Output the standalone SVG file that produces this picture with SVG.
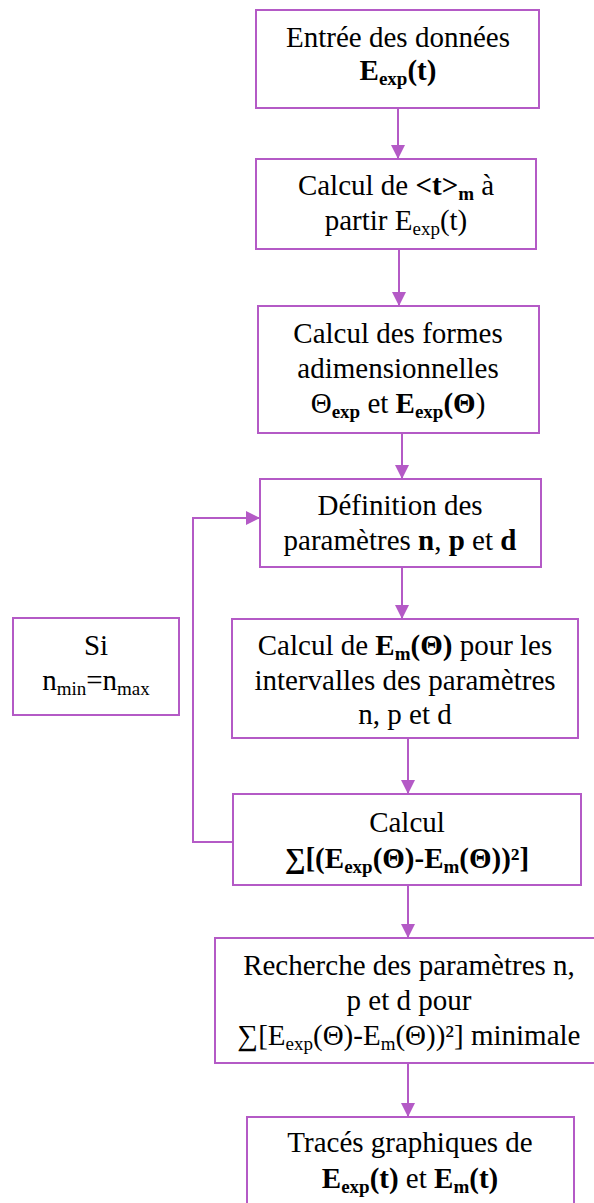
<svg xmlns="http://www.w3.org/2000/svg" width="594" height="1203" viewBox="0 0 594 1203">
<style>
.box{fill:#fff;stroke:#B45AC6;stroke-width:2}
.ln{fill:none;stroke:#B45AC6;stroke-width:2}
text{font-size:29px;fill:#000;text-anchor:middle}
.b{font-weight:bold}
.s{font-size:19px}
</style>
<defs>
<marker id="ah" markerUnits="userSpaceOnUse" markerWidth="16" markerHeight="16" viewBox="0 0 16 16" refX="14" refY="8" orient="auto">
<path d="M0,1 L14,8 L0,15 Z" fill="#B45AC6"/>
</marker>
</defs>
<rect width="594" height="1203" fill="#fff"/>
<g id="connectors">
<line class="ln" x1="398" y1="108" x2="398" y2="159" marker-end="url(#ah)"/>
<line class="ln" x1="399" y1="249" x2="399" y2="306" marker-end="url(#ah)"/>
<line class="ln" x1="402" y1="433" x2="402" y2="479" marker-end="url(#ah)"/>
<line class="ln" x1="402" y1="567" x2="402" y2="619" marker-end="url(#ah)"/>
<line class="ln" x1="408" y1="738" x2="408" y2="794" marker-end="url(#ah)"/>
<line class="ln" x1="408" y1="885" x2="408" y2="938" marker-end="url(#ah)"/>
<line class="ln" x1="408" y1="1063" x2="408" y2="1117" marker-end="url(#ah)"/>
<polyline class="ln" points="233,842 193,842 193,518 260,518" marker-end="url(#ah)"/>
</g>
<g font-family="Liberation Serif, DejaVu Serif, serif">
<g id="n1">
<rect class="box" x="256" y="10" width="283" height="98"/>
<text x="398" y="47">Entrée des données</text>
<text x="398" y="80" class="b">E<tspan class="s" dy="5">exp</tspan><tspan dy="-5">(t)</tspan></text>
</g>
<g id="n2">
<rect class="box" x="256" y="159" width="280" height="90"/>
<text x="396" y="195">Calcul de <tspan class="b">&lt;t&gt;</tspan><tspan class="b s" dy="5">m</tspan><tspan dy="-5"> à</tspan></text>
<text x="396" y="230">partir E<tspan class="s" dy="5">exp</tspan><tspan dy="-5">(t)</tspan></text>
</g>
<g id="n3">
<rect class="box" x="258" y="306" width="281" height="127"/>
<text x="398" y="343">Calcul des formes</text>
<text x="398" y="378">adimensionnelles</text>
<text x="398" y="413">Θ<tspan class="b s" dy="5">exp</tspan><tspan dy="-5"> et </tspan><tspan class="b">E</tspan><tspan class="b s" dy="5">exp</tspan><tspan class="b" dy="-5">(Θ</tspan>)</text>
</g>
<g id="n4">
<rect class="box" x="260" y="479" width="281" height="88"/>
<text x="400" y="515">Définition des</text>
<text x="400" y="550">paramètres <tspan class="b">n</tspan>, <tspan class="b">p</tspan> et <tspan class="b">d</tspan></text>
</g>
<g id="n5">
<rect class="box" x="13" y="618" width="166" height="97"/>
<text x="96" y="655">Si</text>
<text x="96" y="690">n<tspan class="s" dy="5">min</tspan><tspan dy="-5">=n</tspan><tspan class="s" dy="5">max</tspan></text>
</g>
<g id="n6">
<rect class="box" x="232" y="619" width="346" height="119"/>
<text x="405" y="655">Calcul de <tspan class="b">E</tspan><tspan class="b s" dy="5">m</tspan><tspan class="b" dy="-5">(Θ)</tspan> pour les</text>
<text x="405" y="690">intervalles des paramètres</text>
<text x="405" y="724">n, p et d</text>
</g>
<g id="n7">
<rect class="box" x="233" y="794" width="348" height="91"/>
<text x="407" y="832">Calcul</text>
<text x="407" y="868" class="b">∑[(E<tspan class="s" dy="5">exp</tspan><tspan dy="-5">(Θ)-E</tspan><tspan class="s" dy="5">m</tspan><tspan dy="-5">(Θ))²]</tspan></text>
</g>
<g id="n8">
<rect class="box" x="215" y="938" width="390" height="125"/>
<text x="409" y="975">Recherche des paramètres n,</text>
<text x="409" y="1010">p et d pour</text>
<text x="409" y="1045">∑[E<tspan class="s" dy="5">exp</tspan><tspan dy="-5">(Θ)-E</tspan><tspan class="s" dy="5">m</tspan><tspan dy="-5">(Θ))²] minimale</tspan></text>
</g>
<g id="n9">
<rect class="box" x="247" y="1117" width="327" height="100"/>
<text x="410" y="1152">Tracés graphiques de</text>
<text x="410" y="1188"><tspan class="b">E</tspan><tspan class="b s" dy="5">exp</tspan><tspan class="b" dy="-5">(t)</tspan> et <tspan class="b">E</tspan><tspan class="b s" dy="5">m</tspan><tspan class="b" dy="-5">(t)</tspan></text>
</g>
</g>
</svg>
